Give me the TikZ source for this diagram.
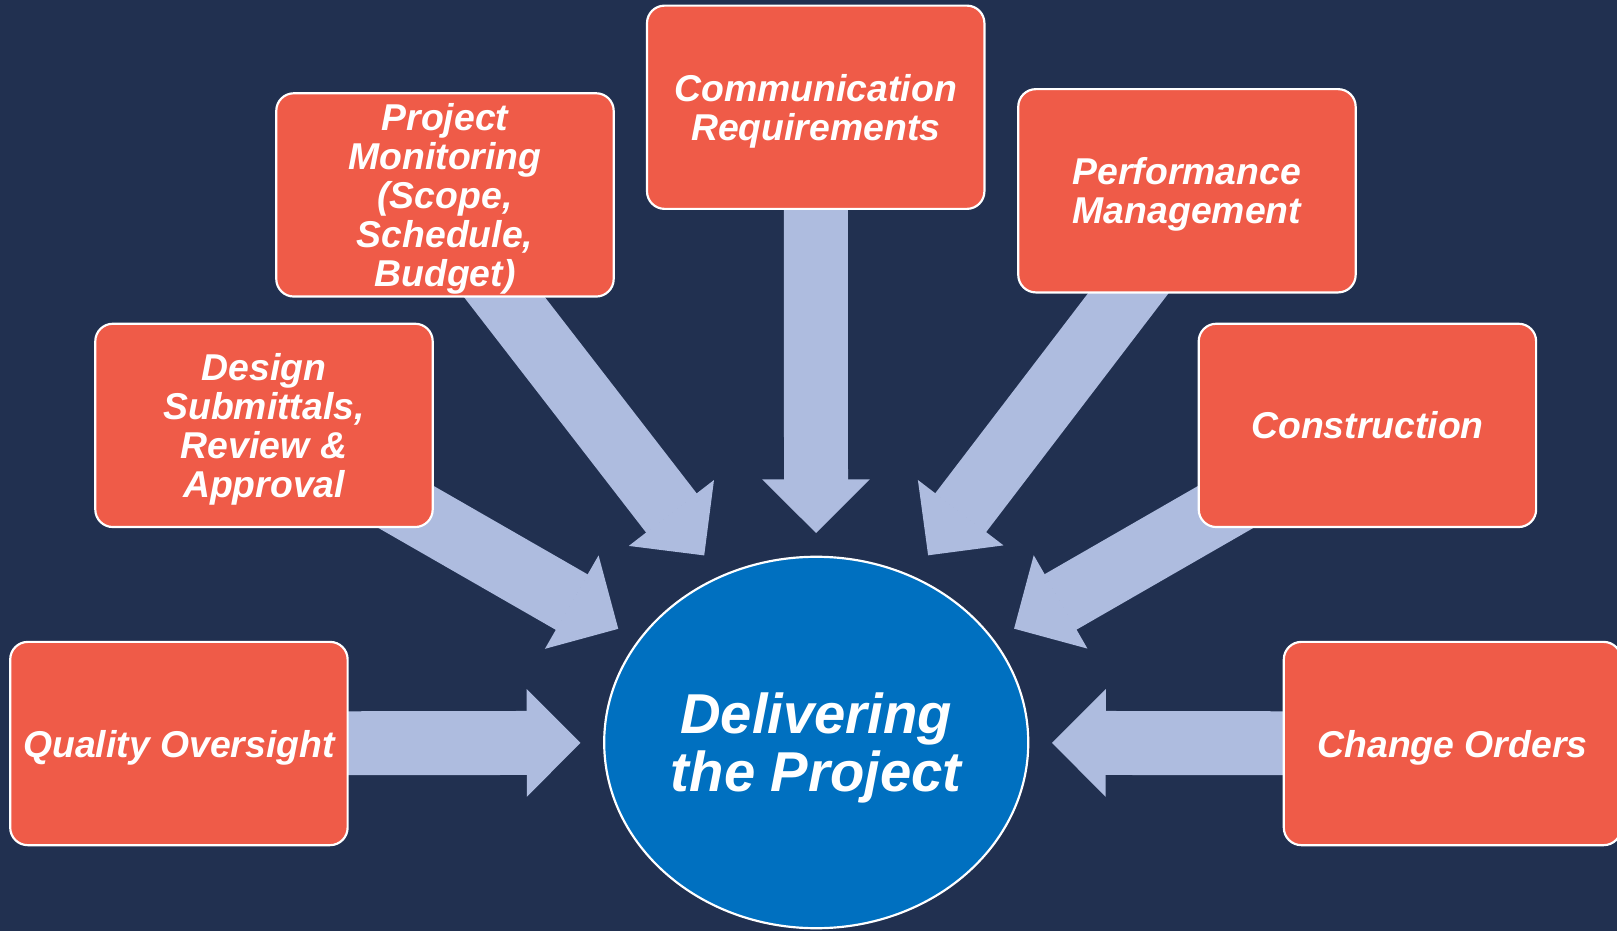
\documentclass[tikz,border=0pt]{standalone}
\usepackage{fontspec}
\setmainfont{Liberation Sans}
\usetikzlibrary{arrows.meta,shapes.geometric,backgrounds}
\definecolor{navy}{RGB}{33,48,80}
\definecolor{coral}{RGB}{239,91,72}
\definecolor{lavender}{RGB}{174,188,223}
\definecolor{hubblue}{RGB}{0,112,192}
\tikzstyle{flow} = [line width=0.62cm, lavender, -{Triangle[length=0.52cm,width=1.04cm,line width=0.6pt]}, shorten >=0.22cm]
\tikzstyle{box} = [draw=white, line width=0.6pt, fill=coral, rounded corners=0.17cm, minimum width=3.27cm, minimum height=1.97cm, inner sep=0.5pt, text depth=0pt, align=center, text=white, font=\fontsize{10.3}{10.7}\selectfont\bfseries\itshape]
\tikzstyle{hub} = [ellipse, draw=white, line width=0.6pt, fill=hubblue, minimum width=4.11cm, minimum height=3.6cm, inner sep=0pt, text depth=0pt, align=center, text=white, font=\fontsize{15.5}{16}\selectfont\bfseries\itshape]
\begin{document}
\begin{tikzpicture}[x=0.01cm, y=-0.01cm]
        \useasboundingbox (0,0) rectangle (1568,903);
        \clip (0,0) rectangle (1568,903);
        \node[box] at (173.5,721) (qo) {Quality Oversight};
        \node[box] at (256,412.5) (ds) {Design\\Submittals,\\Review \&\\Approval};
        \node[box] at (431.5,189) (pm) {Project\\Monitoring\\(Scope,\\Schedule,\\Budget)};
        \node[box] at (791,104) (cr) {Communication\\Requirements};
        \node[box] at (1151,185) (pf) {Performance\\Management};
        \node[box] at (1326,412.5) (cn) {Construction};
        \node[box] at (1408.5,721) (co) {Change Orders};
        \node[hub] at (791.5,720) (dp) {Delivering\\the Project};

        \begin{scope}[on background layer]
        \fill[navy] (0,0) rectangle (1568,903);
        \draw[flow] (qo.center) -- (dp);
        \draw[flow] (ds.center) -- (dp);
        \draw[flow, shorten >=0.25cm] ([xshift=-0.19cm]pm.center) -- (dp.120);
        \draw[flow] (cr.center) -- (dp);
        \draw[flow, shorten >=0.25cm] ([xshift=0.19cm]pf.center) -- (dp.60);
        \draw[flow] (cn.center) -- (dp);
        \draw[flow] (co.center) -- (dp);
        \end{scope}
\end{tikzpicture}
\end{document}
